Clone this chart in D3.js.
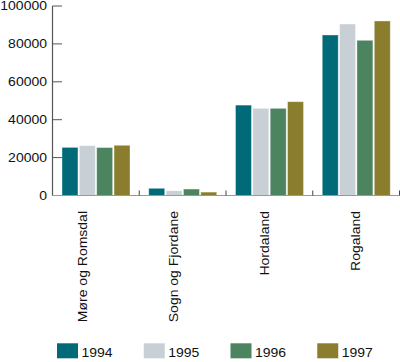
<!DOCTYPE html>
<html lang="en">
  <head>
    <meta charset="utf-8">
    <title>Bar chart</title>
    <style>
      body { margin: 0; background: #fff; }
      svg { display: block; }
      text { font-family: "Liberation Sans", Arial, sans-serif; font-size: 14px; fill: #111; }
    </style>
  </head>
  <body>
    <svg id="chart"></svg>

    <script src="https://cdn.jsdelivr.net/npm/d3@7"></script>
    <script>

      var categories = ["Møre og Romsdal", "Sogn og Fjordane", "Hordaland", "Rogaland"];
      var years = ["1994", "1995", "1996", "1997"];
      var v1994 = [25400, 3800, 47700, 84700];
      var v1995 = [26300, 2500, 46000, 90500];
      var v1996 = [25300, 3400, 46000, 81900];
      var v1997 = [26500, 1800, 49500, 92100];
      var yTicks = [0, 20000, 40000, 60000, 80000, 100000];
      var colors = ["#006a79", "#c8d0d6", "#4b845e", "#8a7e2e"];

      var series = [v1994, v1995, v1996, v1997];

      var width = 400, height = 362;
      var plotLeft = 52.5, plotRight = 399.5, plotTop = 6, plotBase = 195.5;
      var squash = "scale(1,0.86)"; // the source font is wide and low

      var svg = d3.select("#chart")
          .attr("width", width)
          .attr("height", height);

      var x0 = d3.scaleBand().domain(categories).range([plotLeft, plotRight]);
      var x1 = d3.scaleBand().domain(years).range([9.5, 77.5]).paddingInner(0.08);
      var y = d3.scaleLinear().domain([0, 100000]).range([plotBase, plotTop]);

      // bars
      var groups = svg.selectAll("g.cat")
          .data(categories)
          .enter().append("g")
          .attr("class", "cat")
          .attr("transform", function(d) { return "translate(" + x0(d) + ",0)"; });

      groups.selectAll("rect")
          .data(function(d, i) {
            return years.map(function(yr, j) { return {year: yr, value: series[j][i], k: j}; });
          })
          .enter().append("rect")
          .attr("x", function(d) { return x1(d.year); })
          .attr("y", function(d) { return y(d.value); })
          .attr("width", x1.bandwidth())
          .attr("height", function(d) { return plotBase - y(d.value); })
          .attr("fill", function(d) { return colors[d.k]; })
          .attr("stroke", "#fff")
          .attr("stroke-opacity", 0.45)
          .attr("stroke-width", 0.8);

      // y axis
      svg.append("line")
          .attr("x1", plotLeft).attr("x2", plotLeft)
          .attr("y1", plotTop).attr("y2", plotBase)
          .attr("stroke", "#555").attr("stroke-width", 1.2);

      svg.selectAll("line.ytick")
          .data(yTicks)
          .enter().append("line")
          .attr("class", "ytick")
          .attr("x1", plotLeft).attr("x2", plotLeft + 9.5)
          .attr("y1", function(d) { return y(d); })
          .attr("y2", function(d) { return y(d); })
          .attr("stroke", "#555").attr("stroke-width", 1);

      svg.selectAll("text.ylab")
          .data(yTicks)
          .enter().append("text")
          .attr("class", "ylab")
          .attr("text-anchor", "end")
          .attr("transform", function(d) { return "translate(47," + y(d) + ") " + squash; })
          .attr("dy", "0.36em")
          .text(function(d) { return d; });

      // x axis
      svg.append("line")
          .attr("x1", plotLeft).attr("x2", plotRight)
          .attr("y1", plotBase).attr("y2", plotBase)
          .attr("stroke", "#999").attr("stroke-width", 1.2);

      svg.selectAll("line.xtick")
          .data(categories)
          .enter().append("line")
          .attr("class", "xtick")
          .attr("x1", function(d) { return x0(d) + x0.bandwidth(); })
          .attr("x2", function(d) { return x0(d) + x0.bandwidth(); })
          .attr("y1", plotBase).attr("y2", plotBase - 5)
          .attr("stroke", "#444").attr("stroke-width", 1);

      // category labels (spaced a bit wider than the bands in the source)
      var xl = d3.scalePoint().domain(categories).range([87, 360]);

      svg.selectAll("text.xlab")
          .data(categories)
          .enter().append("text")
          .attr("class", "xlab")
          .attr("text-anchor", "end")
          .attr("transform", function(d) { return "translate(" + xl(d) + ",211) rotate(-90) " + squash; })
          .text(function(d) { return d; });

      // legend
      var leg = svg.selectAll("g.leg")
          .data(years)
          .enter().append("g")
          .attr("class", "leg")
          .attr("transform", function(d, i) { return "translate(" + (x0(categories[i]) + 4.5) + ",343.3)"; });

      leg.append("rect")
          .attr("width", 21).attr("height", 15)
          .attr("fill", function(d, i) { return colors[i]; });

      leg.append("text")
          .attr("transform", "translate(24.5,14) " + squash)
          .text(function(d) { return d; });

    </script>
  </body>
</html>
